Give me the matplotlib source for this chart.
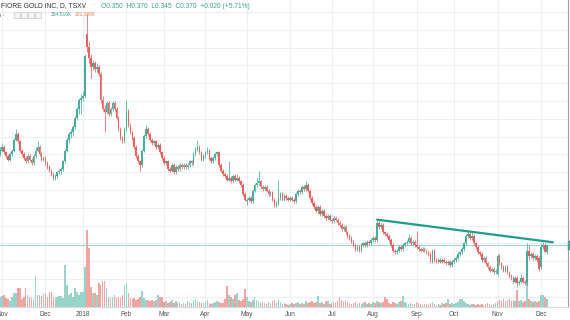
import numpy as np
import pandas as pd
import matplotlib
matplotlib.use("Agg")
import matplotlib.pyplot as plt
from matplotlib.patches import Rectangle

# ---------------- data ----------------
holidays = ["2017-12-25", "2017-12-26", "2018-01-01", "2018-02-19", "2018-03-30",
            "2018-05-21", "2018-07-02", "2018-08-06", "2018-09-03", "2018-10-08"]

opens = [0.62,0.63,0.64,0.625,0.615,0.605,0.62,0.63,0.66,0.675,
         0.655,0.63,0.62,0.61,0.60,0.615,0.605,0.595,0.615,0.63,
         0.64,0.62,0.605,0.61,0.595,0.585,0.575,0.565,0.555,0.56,
         0.57,0.575,0.58,0.60,0.63,0.66,0.675,0.68,0.695,0.72,
         0.745,0.77,0.775,0.78,0.95,0.915,0.885,0.86,0.87,0.855,
         0.86,0.84,0.77,0.745,0.735,0.76,0.73,0.745,0.76,0.745,
         0.72,0.69,0.665,0.655,0.69,0.74,0.70,0.68,0.665,0.64,
         0.615,0.60,0.59,0.63,0.67,0.69,0.675,0.66,0.65,0.655,
         0.64,0.645,0.625,0.61,0.595,0.60,0.58,0.575,0.59,0.57,
         0.585,0.58,0.59,0.585,0.59,0.585,0.59,0.60,0.595,0.62,
         0.635,0.64,0.625,0.605,0.615,0.625,0.63,0.61,0.60,0.61,
         0.62,0.625,0.59,0.575,0.565,0.56,0.55,0.555,0.545,0.56,
         0.55,0.555,0.545,0.535,0.51,0.49,0.495,0.50,0.49,0.52,
         0.535,0.54,0.545,0.53,0.525,0.53,0.52,0.51,0.515,0.495,
         0.48,0.485,0.50,0.51,0.495,0.505,0.50,0.495,0.50,0.495,
         0.49,0.51,0.52,0.515,0.53,0.525,0.535,0.52,0.50,0.485,
         0.475,0.465,0.475,0.455,0.465,0.45,0.445,0.45,0.44,0.435,
         0.445,0.44,0.43,0.425,0.415,0.42,0.405,0.395,0.39,0.38,
         0.37,0.36,0.365,0.355,0.37,0.375,0.37,0.38,0.375,0.385,
         0.39,0.385,0.43,0.42,0.425,0.405,0.40,0.395,0.385,0.37,
         0.355,0.35,0.355,0.365,0.36,0.37,0.375,0.38,0.39,0.375,
         0.38,0.37,0.365,0.36,0.355,0.36,0.355,0.35,0.345,0.325,
         0.355,0.33,0.325,0.33,0.325,0.33,0.325,0.32,0.325,0.315,
         0.325,0.33,0.335,0.345,0.35,0.36,0.375,0.395,0.40,0.39,
         0.395,0.375,0.365,0.35,0.345,0.33,0.335,0.32,0.31,0.30,
         0.305,0.295,0.29,0.34,0.32,0.31,0.30,0.31,0.295,0.285,
         0.28,0.27,0.28,0.265,0.27,0.28,0.27,0.265,0.355,0.34,
         0.345,0.335,0.34,0.335,0.31,0.365,0.37,0.35]
highs = [0.64,0.65,0.645,0.63,0.62,0.625,0.635,0.665,0.69,0.68,
         0.66,0.635,0.625,0.615,0.62,0.62,0.61,0.62,0.64,0.655,
         0.645,0.625,0.615,0.615,0.60,0.59,0.58,0.57,0.565,0.575,
         0.58,0.585,0.605,0.635,0.665,0.68,0.69,0.70,0.725,0.75,
         0.775,0.785,0.795,0.895,1.005,0.93,0.895,0.88,0.875,0.87,
         0.865,0.845,0.78,0.755,0.765,0.765,0.75,0.765,0.765,0.75,
         0.725,0.695,0.67,0.695,0.77,0.745,0.705,0.685,0.67,0.645,
         0.62,0.605,0.635,0.675,0.70,0.695,0.68,0.665,0.66,0.66,
         0.65,0.65,0.63,0.615,0.605,0.605,0.585,0.595,0.595,0.59,
         0.59,0.595,0.595,0.595,0.595,0.595,0.605,0.605,0.625,0.64,
         0.66,0.645,0.63,0.62,0.63,0.64,0.635,0.615,0.615,0.625,
         0.63,0.63,0.595,0.58,0.57,0.565,0.60,0.56,0.565,0.565,
         0.565,0.56,0.55,0.54,0.515,0.50,0.505,0.505,0.525,0.54,
         0.555,0.575,0.55,0.535,0.535,0.535,0.525,0.52,0.52,0.50,
         0.49,0.55,0.515,0.515,0.51,0.51,0.505,0.505,0.505,0.50,
         0.515,0.525,0.525,0.535,0.535,0.545,0.54,0.525,0.505,0.49,
         0.48,0.48,0.48,0.47,0.47,0.455,0.455,0.455,0.445,0.45,
         0.45,0.445,0.435,0.43,0.425,0.425,0.41,0.40,0.395,0.385,
         0.375,0.37,0.37,0.375,0.38,0.38,0.385,0.385,0.39,0.395,
         0.395,0.44,0.435,0.43,0.43,0.41,0.405,0.40,0.39,0.375,
         0.36,0.36,0.37,0.37,0.375,0.38,0.385,0.40,0.395,0.385,
         0.385,0.41,0.37,0.365,0.365,0.365,0.36,0.355,0.35,0.36,
         0.36,0.335,0.335,0.335,0.335,0.335,0.33,0.33,0.33,0.33,
         0.335,0.34,0.35,0.355,0.365,0.38,0.40,0.41,0.405,0.405,
         0.40,0.38,0.37,0.355,0.35,0.34,0.34,0.325,0.315,0.31,
         0.31,0.305,0.345,0.345,0.325,0.315,0.315,0.315,0.30,0.29,
         0.285,0.285,0.285,0.275,0.29,0.285,0.275,0.375,0.37,0.35,
         0.35,0.345,0.345,0.34,0.375,0.38,0.375,0.37]
lows = [0.615,0.625,0.62,0.61,0.60,0.60,0.615,0.625,0.655,0.65,
        0.625,0.615,0.605,0.595,0.595,0.60,0.59,0.59,0.61,0.625,
        0.615,0.60,0.60,0.59,0.58,0.57,0.56,0.55,0.55,0.555,
        0.565,0.565,0.575,0.595,0.625,0.65,0.665,0.67,0.69,0.715,
        0.73,0.73,0.765,0.775,0.90,0.87,0.83,0.85,0.845,0.845,
        0.835,0.76,0.74,0.68,0.73,0.725,0.725,0.74,0.74,0.715,
        0.685,0.66,0.65,0.65,0.685,0.695,0.675,0.66,0.635,0.61,
        0.595,0.575,0.585,0.625,0.665,0.67,0.655,0.645,0.645,0.635,
        0.635,0.62,0.605,0.59,0.59,0.575,0.57,0.57,0.565,0.565,
        0.575,0.575,0.58,0.58,0.58,0.58,0.585,0.59,0.59,0.615,
        0.63,0.62,0.60,0.60,0.61,0.62,0.605,0.595,0.595,0.605,
        0.615,0.585,0.57,0.56,0.555,0.545,0.545,0.54,0.54,0.545,
        0.545,0.54,0.53,0.505,0.49,0.48,0.49,0.485,0.485,0.515,
        0.53,0.535,0.525,0.52,0.52,0.515,0.505,0.505,0.49,0.475,
        0.475,0.48,0.495,0.49,0.49,0.495,0.49,0.49,0.49,0.485,
        0.485,0.505,0.51,0.51,0.52,0.52,0.515,0.495,0.48,0.47,
        0.46,0.455,0.45,0.45,0.445,0.44,0.44,0.435,0.43,0.43,
        0.435,0.425,0.42,0.41,0.41,0.40,0.39,0.385,0.375,0.365,
        0.355,0.355,0.35,0.35,0.365,0.365,0.365,0.37,0.37,0.38,
        0.38,0.38,0.415,0.415,0.40,0.395,0.39,0.38,0.365,0.35,
        0.345,0.345,0.35,0.355,0.355,0.365,0.37,0.375,0.37,0.37,
        0.365,0.36,0.355,0.35,0.35,0.35,0.345,0.34,0.325,0.32,
        0.325,0.32,0.32,0.32,0.32,0.32,0.315,0.315,0.31,0.31,
        0.32,0.325,0.33,0.34,0.345,0.355,0.37,0.39,0.385,0.385,
        0.37,0.36,0.345,0.34,0.325,0.325,0.315,0.305,0.295,0.295,
        0.29,0.29,0.285,0.315,0.305,0.295,0.295,0.29,0.28,0.275,
        0.265,0.265,0.255,0.26,0.265,0.265,0.26,0.26,0.33,0.335,
        0.33,0.33,0.325,0.30,0.305,0.36,0.35,0.345]
closes = [0.63,0.64,0.625,0.615,0.605,0.62,0.63,0.66,0.675,0.655,
          0.63,0.62,0.61,0.60,0.615,0.605,0.595,0.615,0.63,0.64,
          0.62,0.605,0.61,0.595,0.585,0.575,0.565,0.555,0.56,0.57,
          0.575,0.58,0.60,0.63,0.66,0.675,0.68,0.695,0.72,0.745,
          0.77,0.775,0.78,0.89,0.915,0.885,0.86,0.87,0.855,0.86,
          0.84,0.77,0.745,0.735,0.76,0.73,0.745,0.76,0.745,0.72,
          0.69,0.665,0.655,0.69,0.74,0.70,0.68,0.665,0.64,0.615,
          0.60,0.59,0.63,0.67,0.69,0.675,0.66,0.65,0.655,0.64,
          0.645,0.625,0.61,0.595,0.60,0.58,0.575,0.59,0.57,0.585,
          0.58,0.59,0.585,0.59,0.585,0.59,0.60,0.595,0.62,0.635,
          0.64,0.625,0.605,0.615,0.625,0.63,0.61,0.60,0.61,0.62,
          0.625,0.59,0.575,0.565,0.56,0.55,0.555,0.545,0.56,0.55,
          0.555,0.545,0.535,0.51,0.495,0.495,0.50,0.49,0.52,0.535,
          0.54,0.545,0.53,0.525,0.53,0.52,0.51,0.515,0.495,0.48,
          0.485,0.50,0.51,0.495,0.505,0.50,0.495,0.50,0.495,0.49,
          0.51,0.52,0.515,0.53,0.525,0.535,0.52,0.50,0.485,0.475,
          0.465,0.475,0.455,0.465,0.45,0.445,0.45,0.44,0.435,0.445,
          0.44,0.43,0.425,0.415,0.42,0.405,0.395,0.39,0.38,0.37,
          0.36,0.365,0.355,0.37,0.375,0.37,0.38,0.375,0.385,0.39,
          0.385,0.43,0.42,0.425,0.405,0.40,0.395,0.385,0.37,0.355,
          0.35,0.355,0.365,0.36,0.37,0.375,0.38,0.39,0.375,0.38,
          0.37,0.365,0.36,0.355,0.36,0.355,0.35,0.345,0.33,0.355,
          0.33,0.325,0.33,0.325,0.33,0.325,0.32,0.325,0.315,0.325,
          0.33,0.335,0.345,0.35,0.36,0.375,0.395,0.40,0.39,0.395,
          0.375,0.365,0.35,0.345,0.33,0.335,0.32,0.31,0.30,0.305,
          0.295,0.30,0.34,0.32,0.31,0.30,0.31,0.295,0.285,0.28,
          0.27,0.28,0.265,0.27,0.28,0.27,0.265,0.355,0.34,0.345,
          0.335,0.34,0.33,0.305,0.365,0.37,0.35,0.37]
volumes_k = [200,220,240,180,160,120,200,280,280,380,
             380,160,200,380,240,200,180,160,620,240,
             240,220,260,280,200,300,300,200,180,200,
             220,220,180,840,440,240,280,200,380,300,
             240,300,300,800,1540,1180,400,280,280,240,
             480,440,520,520,380,200,180,200,240,180,
             200,180,240,440,480,280,180,160,180,140,
             160,200,320,180,140,140,120,140,120,140,
             240,200,200,100,120,80,100,140,90,120,
             80,100,70,90,60,120,100,80,140,160,
             120,100,90,80,110,140,90,70,80,100,
             120,100,80,90,160,420,240,200,160,240,
             280,140,120,160,360,200,120,100,140,200,
             140,120,80,100,80,60,100,80,120,140,
             80,160,100,60,80,60,40,60,80,60,
             80,100,60,80,60,120,80,100,120,80,
             100,220,80,100,60,120,120,60,80,100,
             80,120,200,140,120,140,100,80,60,80,
             100,60,80,60,80,100,60,80,60,100,
             80,120,100,80,100,200,160,80,60,100,
             80,60,100,120,220,100,80,60,80,60,
             60,100,80,60,40,60,60,40,80,100,
             60,40,60,40,80,60,80,160,60,80,
             60,80,100,160,160,120,80,60,40,60,
             60,40,60,40,60,40,60,80,60,40,
             60,80,120,140,120,160,120,140,160,120,
             140,120,340,120,140,100,120,480,160,120,
             100,120,100,120,240,240,200,155]

trend_idx = [191, 280]
trend_price = [0.44, 0.378]
last_price = 0.370

# ---------------- build ----------------
dates = pd.bdate_range("2017-10-31", "2018-12-06")
dates = dates[~dates.isin(pd.to_datetime(holidays))]
n = len(closes)
dates = dates[:n]
idx = np.arange(n)
o = np.array(opens); h = np.array(highs); l = np.array(lows); c = np.array(closes)
v = np.array(volumes_k, dtype=float)
up = c >= o

UP = "#45ad9c"
DN = "#ec5f5b"
VUP = "#98d4ca"
VDN = "#f4a4a0"
FONT = ["Liberation Sans", "DejaVu Sans"]

W, H = 570, 320
fig = plt.figure(figsize=(W / 100, H / 100), dpi=100)
fig.patch.set_facecolor("white")
ax = fig.add_axes([0, 13 / H, 568 / W, 307 / H])
axv = ax.twinx()
ax.set_zorder(2); ax.patch.set_visible(False)
axv.set_zorder(1)

YLO, YHI = 0.2, 1.04375
ax.set_xlim(-0.013, 287.7)
axv.set_xlim(-0.013, 287.7)
ax.set_ylim(YLO, YHI)
axv.set_ylim(0, 6140)

# month ticks (first trading day of each month)
month_pos, month_lab = [], []
prev = None
for i, d in enumerate(dates):
    if prev is not None and d.month != prev.month:
        month_pos.append(i)
        month_lab.append("2018" if d.month == 1 else d.strftime("%b"))
    prev = d

# grid (vertical at month ticks, horizontal evenly spaced as in the screenshot)
for mp in month_pos:
    axv.axvline(mp, color="#edf0f3", lw=0.8, zorder=0)
grid_frac = (307 - (12 + 17.8 * np.arange(17))) / 307
for gf in grid_frac:
    axv.axhline(gf * 6140, color="#edf0f3", lw=0.8, zorder=0)

# volume
axv.bar(idx, v, width=0.8, color=np.where(up, VUP, VDN), zorder=1, linewidth=0)

# price line
ax.axhline(last_price, color="#9ad3ca", lw=0.7, zorder=1)

# candles
cols = np.where(up, UP, DN)
ax.vlines(idx, l, h, colors=cols, lw=0.55, zorder=3)
body_bot = np.minimum(o, c)
body_h = np.maximum(np.abs(c - o), 0.003)
ax.bar(idx, body_h, bottom=body_bot, width=0.8, color=cols, linewidth=0, zorder=4)

# trendline
ax.plot(trend_idx, trend_price, color="#1f9e8a", lw=1.6, solid_capstyle="round", zorder=5)

# axes styling
for a in (ax, axv):
    a.set_yticks([])
    for s in a.spines.values():
        s.set_visible(False)
ax.spines["bottom"].set_visible(True)
ax.spines["bottom"].set_color("#d6d9dd")
ax.spines["bottom"].set_linewidth(0.8)
ax.spines["right"].set_visible(True)
ax.spines["right"].set_color("#9aa0a6")
ax.spines["right"].set_linewidth(0.8)
axv.set_xticks([])
ax.set_xticks(month_pos)
ax.set_xticklabels(month_lab, fontsize=4.8, color="#555555", family=FONT)
ax.tick_params(axis="x", length=0, pad=3)

# price tag at the right edge
fig.patches.append(Rectangle((568 / W, (H - 249) / H), 3 / W, 8 / H,
                             transform=fig.transFigure, color="#3aa392", zorder=10))

# header
def ftxt(x, y, s, color, size=4.75):
    fig.text(x / W, 1 - y / H, s, color=color, fontsize=size, va="center", ha="left",
             family=FONT, zorder=20)

ftxt(1, 6, "FIORE GOLD INC, D, TSXV", "#333333", 4.9)
ftxt(92, 6, "\u00b7", "#888888")
ftxt(101, 6, "O0.350  H0.370  L0.345  C0.370  +0.020 (+5.71%)", "#36a18f")
ftxt(-1, 15, ") \u00b7", "#666666", 4.2)
for bx in (14, 21, 28, 35):
    fig.patches.append(Rectangle((bx / W, 1 - 18 / H), 6 / W, 6 / H, transform=fig.transFigure,
                                 facecolor="#f4f4f4", edgecolor="#c8c8c8", lw=0.5, zorder=20))
ftxt(51, 15, "154.516K", "#36a18f", 3.6)
ftxt(75, 15, "131.388K", "#f0894f", 3.6)

fig.savefig("out.png", dpi=100)
